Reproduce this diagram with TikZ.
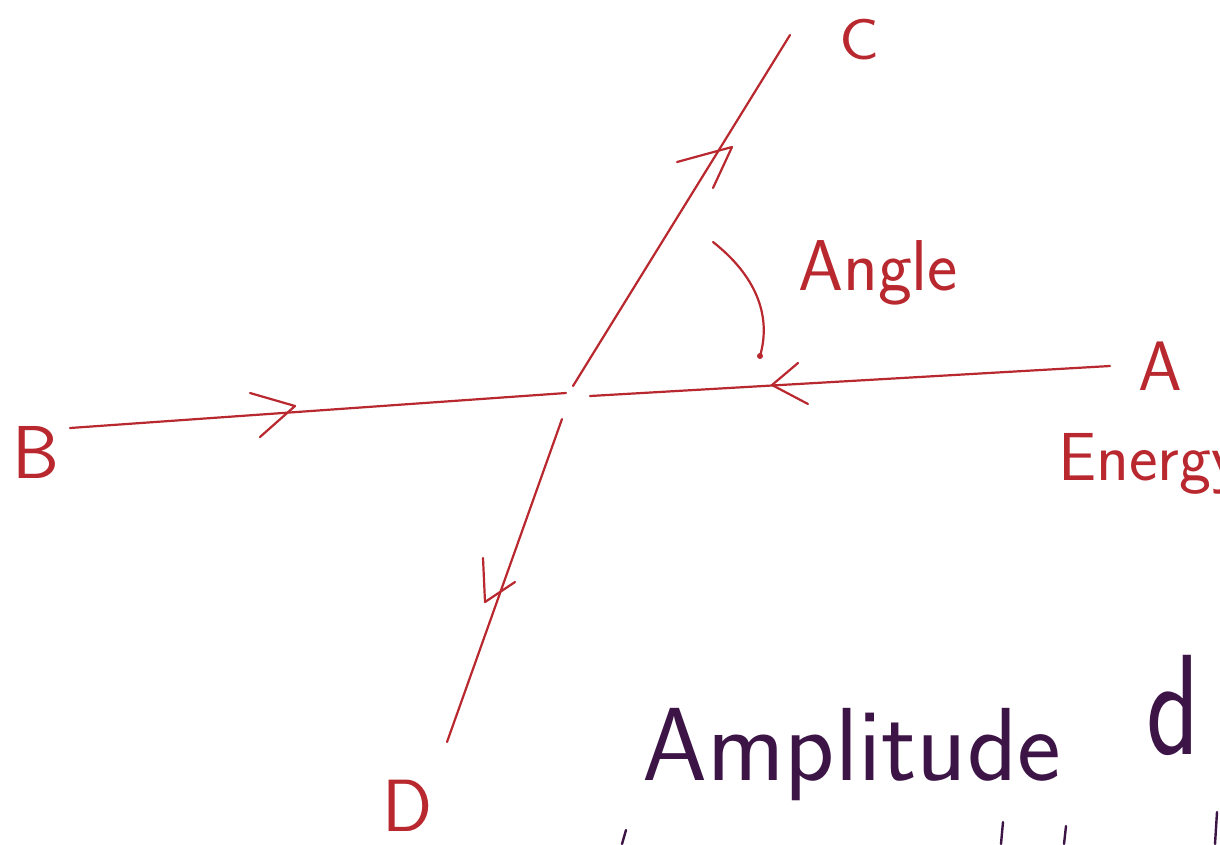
\documentclass[tikz,border=0pt]{standalone}
\usepackage{fontspec}
\definecolor{inkred}{HTML}{B8282E}
\definecolor{inkdark}{HTML}{3C1446}
\begin{document}
\begin{tikzpicture}[x=1pt,y=-1pt,
  ink/.style={draw=inkred, line width=2.2pt, line cap=round, line join=round},
  dink/.style={draw=inkdark, line width=2.4pt, line cap=round, line join=round},
  lab/.style={text=inkred, font=\sffamily, inner sep=0pt},
  dlab/.style={text=inkdark, font=\sffamily, inner sep=0pt}]
\useasboundingbox (0,0) rectangle (1220,844);
\clip (0,0) rectangle (1220,844);
\fill[white] (0,0) rectangle (1220,844);
% end points of the four rays
\coordinate (Bend) at (70,428);
\coordinate (Bin) at (566,393);
\coordinate (Aend) at (1110,366);
\coordinate (Ain) at (590,396);
\coordinate (Cend) at (790,35);
\coordinate (Cin) at (573,386);
\coordinate (Dend) at (447,742);
\coordinate (Din) at (562,419);
% rays
\draw[ink] (Bend) -- (Bin);
\draw[ink] (Ain) -- (Aend);
\draw[ink] (Cin) -- (Cend);
\draw[ink] (Din) -- (Dend);
% open arrowheads
\draw[ink] (250,393) -- (295,406) -- (260,437);
\draw[ink] (798,363) -- (772,385) -- (808,404);
\draw[ink] (677,162) -- (732,147) -- (713,188);
\draw[ink] (483,558) -- (485,602) -- (515,582);
% angle arc
\coordinate (arcS) at (713,242);
\coordinate (arcE) at (760,356);
\draw[ink] (arcS) .. controls (755,275) and (772,315) .. (arcE);
\fill[inkred] (arcE) circle (3);
% labels
\node[lab, font=\sffamily\fontsize{58}{58}\selectfont, xscale=1.15] (labC) at (860,40) {C};
\node[lab, font=\sffamily\fontsize{70}{70}\selectfont] (labA) at (1160,366) {A};
\node[lab, font=\sffamily\fontsize{75}{75}\selectfont] (labB) at (36,452) {B};
\node[lab, font=\sffamily\fontsize{74}{74}\selectfont] (labD) at (408,806) {D};
\node[lab, anchor=base west, font=\sffamily\fontsize{72}{72}\selectfont] (angle) at (798,290) {Angle};
\node[lab, anchor=base west, font=\sffamily\fontsize{68}{68}\selectfont] (energy) at (1058,480) {Energy};
\node[dlab, anchor=base west, font=\sffamily\fontsize{104}{104}\selectfont] (ampl) at (642,780) {Amplitude};
\node[dlab, anchor=base west, font=\sffamily\fontsize{110}{110}\selectfont, yscale=1.3] (dd) at (1146,754) {d};
% fragments of the next line
\draw[dink] (626,830) -- (622,844);
\draw[dink] (1003,822) -- (1001,844);
\draw[dink] (1066,826) -- (1064,844);
\draw[dink] (1217,812) -- (1215,844);
\end{tikzpicture}
\end{document}
